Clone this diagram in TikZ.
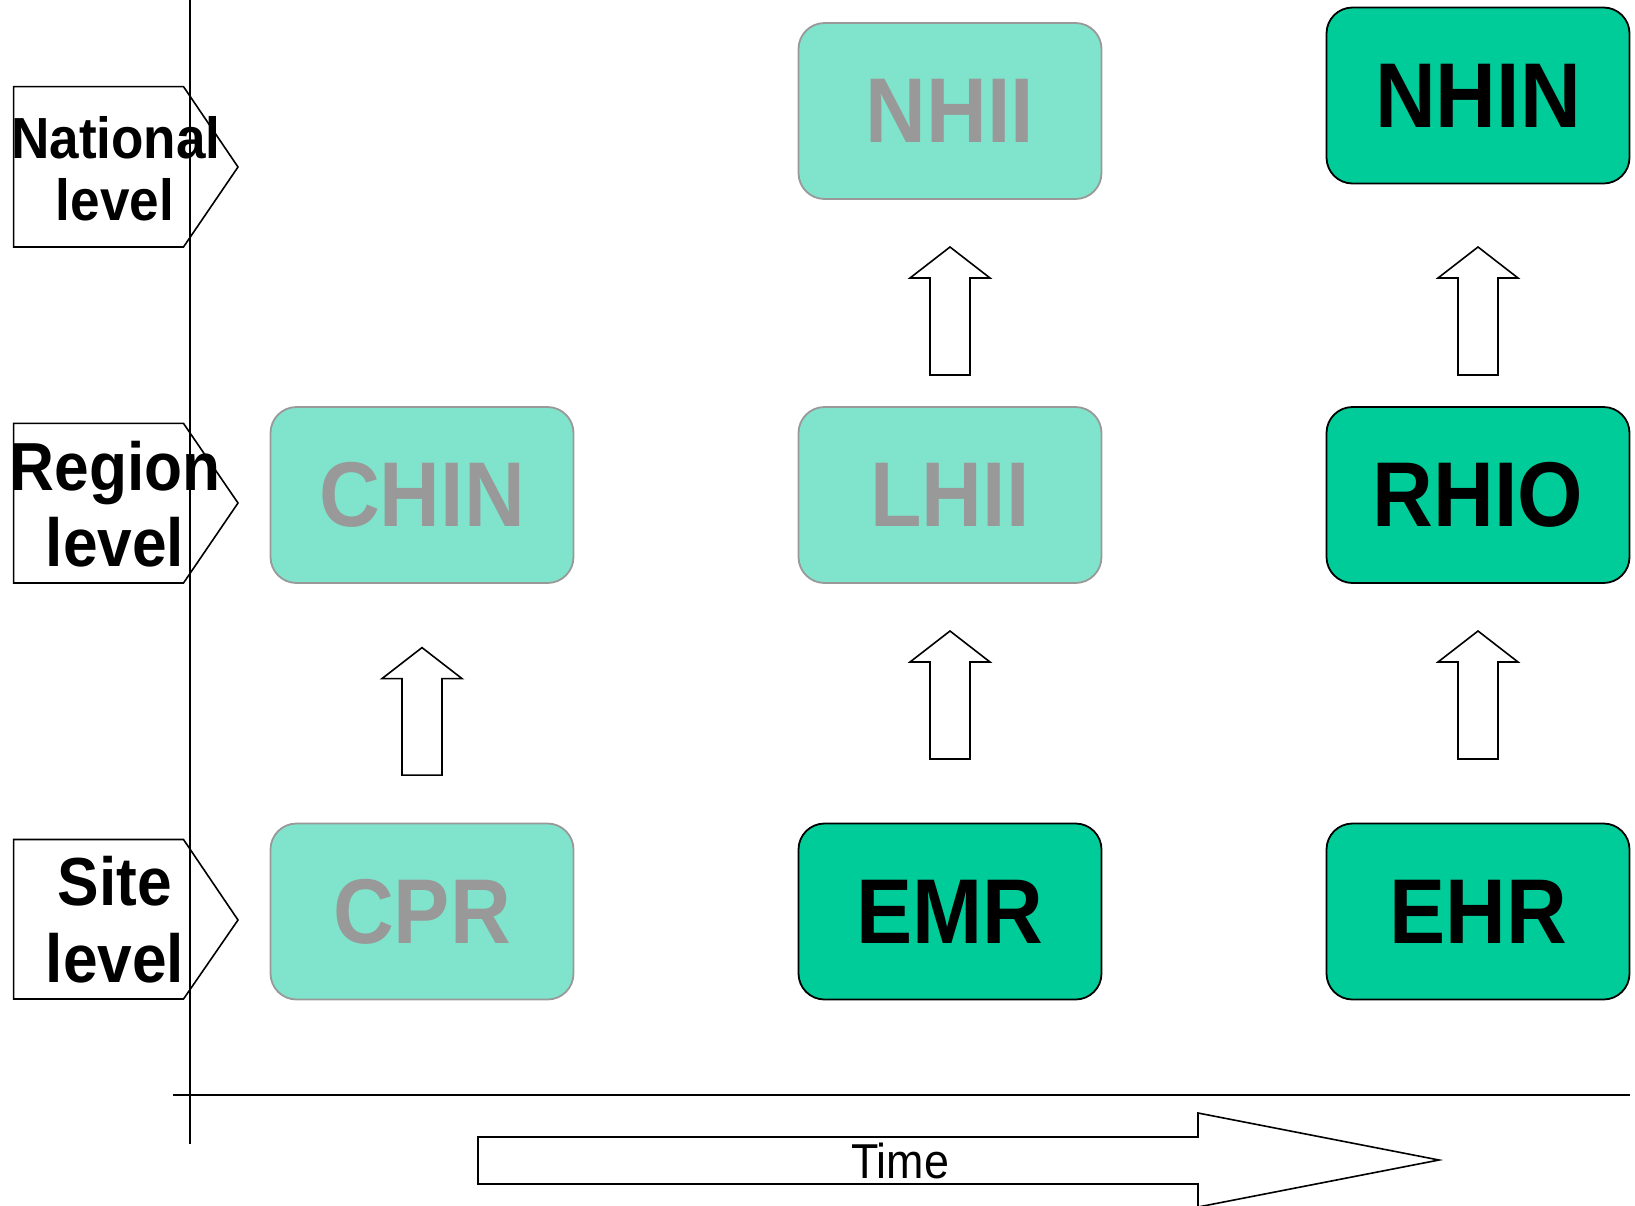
\documentclass[tikz,border=0pt]{standalone}
\usepackage{fontspec}
\setmainfont{Liberation Sans}[FakeStretch=0.915]
\definecolor{lightgreen}{HTML}{7FE4CB}
\definecolor{darkgreen}{HTML}{00CC99}
\definecolor{boxgray}{HTML}{999999}
\definecolor{textgray}{HTML}{999999}
\tikzset{
  basebox/.style={line width=1.8pt, rounded corners=26pt, minimum width=303pt, minimum height=176pt, inner sep=0pt, font=\fontsize{92}{100}\selectfont\bfseries},
  lightbox/.style={basebox, draw=boxgray, fill=lightgreen, text=textgray},
  darkbox/.style={basebox, draw=black, fill=darkgreen, text=black},
  hollow/.style={draw=black, line width=1.6pt, fill=white, line join=miter},
  axisline/.style={draw=black, line width=1.6pt},
  lvltextA/.style={anchor=base, inner sep=0pt, font=\fontsize{58}{62}\selectfont\bfseries},
  lvltextB/.style={anchor=base, inner sep=0pt, font=\fontsize{68}{72}\selectfont\bfseries},
  pics/uparr/.style={code={\draw[hollow] (0,0) -- (40,31) -- (20,31) -- (20,#1) -- (-20,#1) -- (-20,31) -- (-40,31) -- cycle;}}
}
\begin{document}
\begin{tikzpicture}[x=1pt,y=-1pt]
\useasboundingbox (0,0) rectangle (1635,1205);
% level labels (pentagons)
\draw[hollow, fill=none] (13.6,86.6) -- (183.5,86.6) -- (238,167) -- (183.5,247) -- (13.6,247) -- cycle;
\draw[hollow, fill=none] (13.6,423.4) -- (183.5,423.4) -- (238,503) -- (183.5,583) -- (13.6,583) -- cycle;
\draw[hollow, fill=none] (13.6,839.5) -- (183.5,839.5) -- (238,920) -- (183.5,999) -- (13.6,999) -- cycle;
\node[lvltextA] (nat1) at (116,158.5) {National};
\node[lvltextA] (nat2) at (115,220) {level};
\node[lvltextB] (reg1) at (115,490) {Region};
\node[lvltextB] (reg2) at (115,566) {level};
\node[lvltextB] (site1) at (115,905) {Site};
\node[lvltextB] (site2) at (115,982) {level};
% axes
\draw[axisline] (190,0) -- (190,1144);
\draw[axisline] (173,1095) -- (1630,1095);
% boxes
\node[lightbox] (nhii) at (950,111) {NHII};
\node[darkbox]  (nhin) at (1478,95.5) {NHIN};
\node[lightbox] (chin) at (422,495) {CHIN};
\node[lightbox] (lhii) at (950,495) {LHII};
\node[darkbox]  (rhio) at (1478,495) {RHIO};
\node[lightbox] (cpr) at (422,911.5) {CPR};
\node[darkbox]  (emr) at (950,911.5) {EMR};
\node[darkbox]  (ehr) at (1478,911.5) {EHR};
% hollow up arrows
\pic at (422,647.6) {uparr=127.5};
\pic at (950,631) {uparr=128};
\pic at (950,247) {uparr=128};
\pic at (1478,631) {uparr=128};
\pic at (1478,247) {uparr=128};
% time arrow
\draw[hollow] (478,1137) -- (1198,1137) -- (1198,1113) -- (1439,1160) -- (1198,1207) -- (1198,1184) -- (478,1184) -- cycle;
\node[inner sep=0pt, font=\fontsize{49}{52}\selectfont] (time) at (900,1161) {Time};
\end{tikzpicture}
\end{document}
